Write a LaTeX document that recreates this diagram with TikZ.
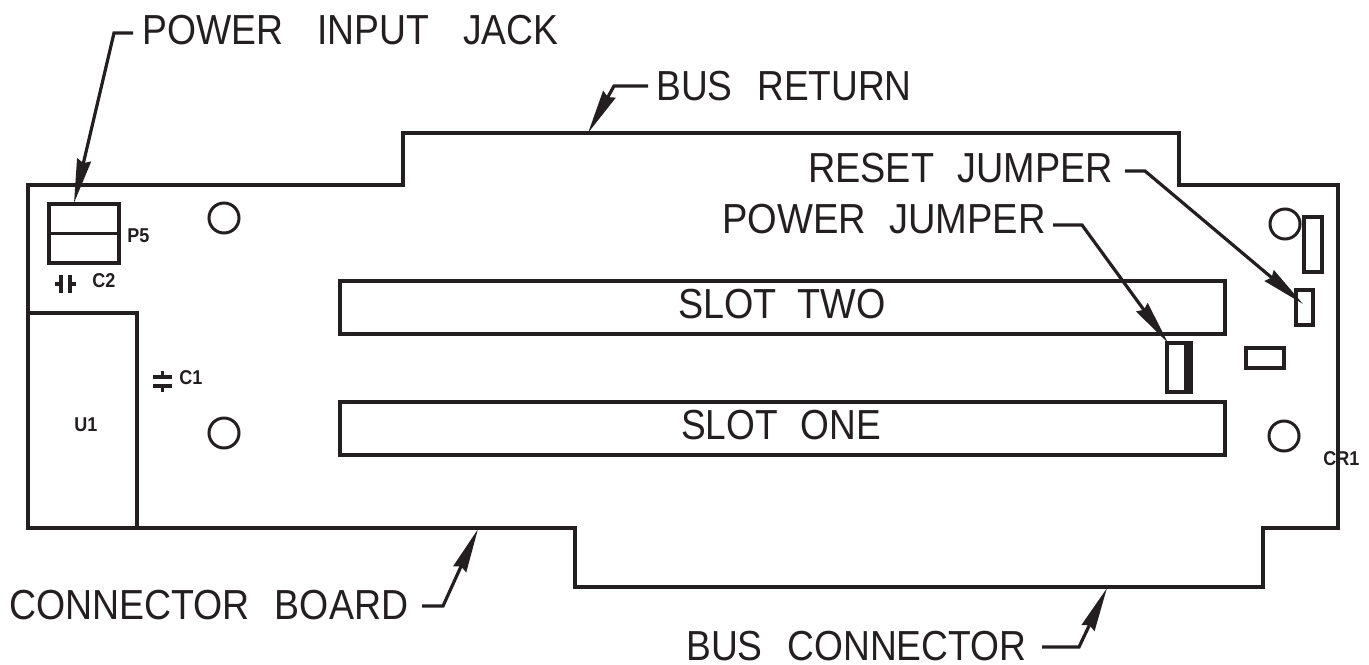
\documentclass[tikz,border=0pt]{standalone}
\usepackage{fontspec}
\setmainfont{Liberation Sans}
\usetikzlibrary{arrows.meta}
\newlength{\px}\setlength{\px}{0.75pt}
\definecolor{ink}{HTML}{231F20}
\newcommand{\wgap}[1]{\hspace{#1pt}}
\newcommand{\narrow}[2]{\scalebox{#1}[1]{#2}}
\tikzset{
  x=0.75pt,y=-0.75pt,
  outline/.style={draw=ink,line width=3.4\px,line join=miter},
  part/.style={outline,rectangle,inner sep=0pt,outer sep=0pt},
  hole/.style={draw=ink,line width=3\px,circle,inner sep=0pt,outer sep=0pt,minimum size=30\px},
  big/.style={text=ink,inner sep=0pt,anchor=base west,font=\fontsize{31.5}{32}\selectfont},
  small/.style={text=ink,inner sep=0pt,anchor=base west,font=\fontsize{15}{16}\selectfont\bfseries},
  leader/.style={draw=ink,line width=3.2\px,line join=miter,-{Stealth[length=33pt,width=10.5pt,inset=2.25pt]}},
  plate/.style={draw=ink,line width=3.2\px},
}
\begin{document}
\begin{tikzpicture}
\useasboundingbox[fill=white] (0,0) rectangle (1369,664);
% board outline
\draw[outline] (28,185) -- (403,185) -- (403,133) -- (1179,133) -- (1179,185) -- (1338,185)
  -- (1338,528) -- (1263,528) -- (1263,587) -- (575,587) -- (575,528) -- (28,528) -- cycle;
% parts
\node[part,minimum width=70\px,minimum height=59\px] (p5) at (84,233.5) {};
\draw[outline] (p5.west) -- (p5.east);
\node[part,minimum width=109\px,minimum height=215\px] (u1) at (82.5,420.5) {};
\node[part,minimum width=885\px,minimum height=53\px] (slottwo) at (782.5,307.5) {};
\node[part,minimum width=885\px,minimum height=53\px] (slotone) at (782.5,428.5) {};
\node[part,minimum width=18\px,minimum height=55\px] (tall) at (1313,244.5) {};
\node[part,minimum width=17\px,minimum height=35\px] (resetj) at (1304.5,307.5) {};
\node[part,minimum width=38\px,minimum height=20\px] (flat) at (1265,358) {};
\node[part,minimum width=24\px,minimum height=49\px] (powerj) at (1179,367.5) {};
\fill[ink] (1184,342) rectangle (1192,393);
% holes
\node[hole] (h1) at (224,218) {};
\node[hole] (h2) at (224,433) {};
\node[hole] (h3) at (1285,224) {};
\node[hole] (h4) at (1284,436) {};
% capacitors
\draw[plate] (55,284) -- (61,284) (70,284) -- (76,284);
\draw[plate] (61,275) -- (61,293) (70,275) -- (70,293);
\draw[plate] (162.5,371) -- (162.5,377) (162.5,386) -- (162.5,392);
\draw[plate] (153,377) -- (172,377) (153,386) -- (172,386);
% small labels
\node[small] (tp5) at (127,242) {\narrow{.9}{P5}};
\node[small] (tc2) at (92,287) {\narrow{.9}{C2}};
\node[small] (tc1) at (179,384) {\narrow{.9}{C1}};
\node[small] (tu1) at (74,431) {\narrow{.9}{U1}};
\node[small] (tcr1) at (1323,465) {\narrow{.9}{CR1}};
% big labels
\node[big] (lpij) at (142,44) {\narrow{.888}{POWER\wgap{28.7}INPUT\wgap{28.7}JACK}};
\node[big] (lbr) at (656,100) {\narrow{.883}{BUS\wgap{21}RETURN}};
\node[big] (lrj) at (808,182) {\narrow{.90}{RESET\wgap{19.3}JUMPER}};
\node[big] (lpj) at (722,233) {\narrow{.906}{POWER\wgap{19.3}JUMPER}};
\node[big] (lst) at (678,318) {\narrow{.898}{SLOT\wgap{17.5}TWO}};
\node[big] (lso) at (681,439) {\narrow{.882}{SLOT\wgap{19.3}ONE}};
\node[big] (lcb) at (9,619) {\narrow{.892}{CONNECTOR\wgap{21}BOARD}};
\node[big] (lbc) at (686,660) {\narrow{.885}{BUS\wgap{21}CONNECTOR}};
% leader ends
\coordinate (a1) at (133,33);  \coordinate (a2) at (114,33);   \coordinate (a3) at (74,203);
\coordinate (b1) at (648,86);  \coordinate (b2) at (614,86);   \coordinate (b3) at (588,133);
\coordinate (c1) at (1125,171);\coordinate (c2) at (1145,171); \coordinate (c3) at (1303,304);
\coordinate (d1) at (1053,225);\coordinate (d2) at (1082,225); \coordinate (d3) at (1168,343);
\coordinate (e1) at (422,606); \coordinate (e2) at (443,606);  \coordinate (e3) at (478,529);
\coordinate (f1) at (1042,647);\coordinate (f2) at (1079,647); \coordinate (f3) at (1107,588);
% leaders
\draw[leader] (a1) -- (a2) -- (a3);
\draw[leader] (b1) -- (b2) -- (b3);
\draw[leader] (c1) -- (c2) -- (c3);
\draw[leader] (d1) -- (d2) -- (d3);
\draw[leader] (e1) -- (e2) -- (e3);
\draw[leader] (f1) -- (f2) -- (f3);
\end{tikzpicture}
\end{document}
